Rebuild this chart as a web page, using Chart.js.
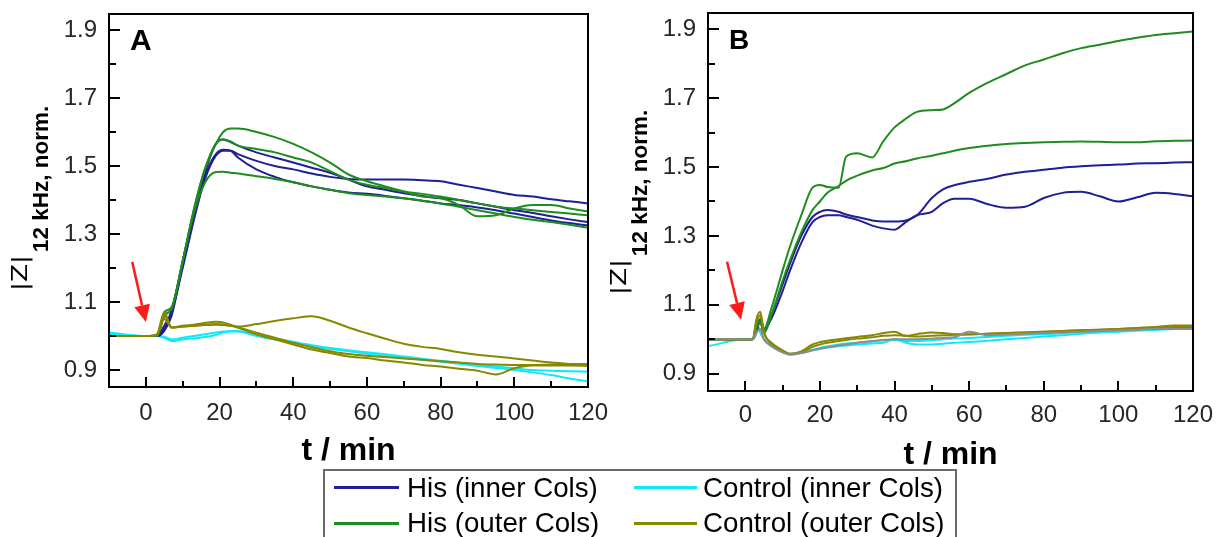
<!DOCTYPE html>
<html>
<head>
<meta charset="utf-8">
<script src="https://cdn.jsdelivr.net/npm/chart.js@4/dist/chart.umd.min.js"></script>
<style>
  html, body { margin:0; padding:0; background:#fff; width:1219px; height:537px; overflow:hidden; position:relative; }
  canvas { position:absolute; top:0; }
  #cA { left:0; }
  #cB { left:590px; }
  .lgbox { position:absolute; left:323px; top:469px; width:634px; height:90px; border:2px solid #6a6a6a; box-sizing:border-box; }
  .lgline { position:absolute; height:3px; }
  .lgtext { position:absolute; font-family:"Liberation Sans", Arial, sans-serif; font-size:27.7px; line-height:32px; color:#000; white-space:nowrap; }
</style>
</head>
<body>
<canvas id="cA" width="640" height="470"></canvas>
<canvas id="cB" width="629" height="470"></canvas>
<div class="lgbox"></div>
<div class="lgline" style="left:334px;top:486px;width:65px;background:#1f1f96"></div>
<div class="lgtext" style="left:407px;top:472px" id="lg1"></div>
<div class="lgline" style="left:634px;top:486px;width:63px;background:#10e8f8"></div>
<div class="lgtext" style="left:703px;top:472px" id="lg2"></div>
<div class="lgline" style="left:334px;top:522px;width:65px;background:#1e8c1e"></div>
<div class="lgtext" style="left:407px;top:507px" id="lg3"></div>
<div class="lgline" style="left:634px;top:522px;width:63px;background:#888800"></div>
<div class="lgtext" style="left:703px;top:507px" id="lg4"></div>
<script>
// ---------------- DATA ----------------
const legendLabels = ['His (inner Cols)', 'Control (inner Cols)', 'His (outer Cols)', 'Control (outer Cols)'];
const xTickLabels = [0, 20, 40, 60, 80, 100, 120];
const xMinorTicks = [10, 30, 50, 70, 90, 110];
const yTickLabels = [0.9, 1.1, 1.3, 1.5, 1.7, 1.9];
const yMinorTicks = [1.0, 1.2, 1.4, 1.6, 1.8];
const xRange = [-10, 120];
const yRange = [0.85, 1.947];
const panelLetters = ['A', 'B'];
const yTitleMain = '|Z|';
const yTitleSub = '12 kHz, norm.';
const xTitle = 't / min';

// Panel A time grid (min)
const tA = [-10,0,3,5,7,10,13,16,19,21,23,25,30,35,40,45,50,55,60,65,70,75,80,85,90,95,100,105,110,115,120];
const A_hisInner1 = [1.0,1.0,1.0,1.02,1.07, 1.2,1.34,1.46,1.53,1.545, 1.545,1.535,1.515,1.5,1.49, 1.478,1.468,1.462,1.46,1.46, 1.46,1.458,1.455,1.445,1.435, 1.425,1.415,1.41,1.402,1.396, 1.39];
const A_hisInner2 = [1.0,1.0,1.0,1.015,1.06, 1.21,1.36,1.48,1.565,1.578, 1.57,1.56,1.54,1.525,1.51, 1.495,1.48,1.46,1.44,1.43, 1.42,1.412,1.405,1.4,1.39, 1.38,1.37,1.362,1.352,1.343, 1.335];
const A_hisInner3 = [1.0,1.0,1.0,1.03,1.075, 1.22,1.36,1.47,1.535,1.548, 1.545,1.525,1.49,1.468,1.452, 1.44,1.43,1.422,1.418,1.412, 1.405,1.398,1.39,1.385,1.378, 1.37,1.36,1.35,1.34,1.332, 1.325];
const A_hisOuter1 = [1.0,1.0,1.0,1.07,1.085, 1.22,1.37,1.49,1.565,1.6, 1.61,1.61,1.6,1.585,1.565, 1.54,1.51,1.475,1.455,1.44, 1.425,1.41,1.405,1.385,1.352, 1.355,1.375,1.385,1.385,1.375, 1.366];
const A_hisOuter2 = [1.0,1.0,1.0,1.06,1.08, 1.22,1.37,1.49,1.565,1.578, 1.572,1.56,1.55,1.54,1.525, 1.51,1.485,1.46,1.445,1.435, 1.425,1.418,1.41,1.4,1.39, 1.38,1.375,1.37,1.365,1.36, 1.355];
const A_hisOuter3 = [1.0,1.0,1.0,1.06,1.08, 1.22,1.36,1.45,1.482,1.483, 1.48,1.478,1.47,1.462,1.452, 1.44,1.43,1.42,1.415,1.41, 1.405,1.398,1.39,1.38,1.37, 1.36,1.35,1.342,1.335,1.327, 1.318];
const A_ctrlInner1 = [1.005,1.0,1.0,0.995,0.985, 0.99,0.993,0.997,1.003,1.01, 1.013,1.013,1.0,0.99,0.98, 0.97,0.962,0.955,0.948,0.942, 0.936,0.93,0.924,0.918,0.912, 0.906,0.9,0.893,0.885,0.875, 0.866];
const A_ctrlInner2 = [1.01,1.0,1.0,0.998,0.99, 0.995,1.0,1.005,1.01,1.013, 1.015,1.015,1.003,0.993,0.983, 0.973,0.965,0.958,0.952,0.946, 0.94,0.933,0.927,0.921,0.915, 0.91,0.905,0.9,0.898,0.896, 0.895];
const A_ctrlOuter1 = [1.0,1.0,1.005,1.07,1.025, 1.028,1.03,1.032,1.033,1.032, 1.03,1.028,1.035,1.044,1.052, 1.058,1.045,1.025,1.008,0.992, 0.977,0.968,0.962,0.952,0.945, 0.94,0.934,0.928,0.922,0.918, 0.915];
const A_ctrlOuter2 = [1.0,1.0,1.005,1.06,1.025, 1.03,1.033,1.038,1.042,1.04, 1.033,1.025,1.005,0.99,0.975, 0.96,0.95,0.94,0.935,0.928, 0.922,0.915,0.91,0.904,0.898, 0.887,0.905,0.913,0.913,0.913, 0.912];
const A_ctrlOuter3 = [1.0,1.0,1.003,1.05,1.025, 1.028,1.03,1.033,1.035,1.034, 1.03,1.025,1.01,0.995,0.98, 0.967,0.955,0.947,0.942,0.938, 0.934,0.93,0.926,0.922,0.918, 0.916,0.915,0.915,0.916,0.917, 0.918];

// Panel B time grid (min)
const tB = [-10,0,2,3,4,5,7,10,12,15,18,20,22,25,27,30,34,37,40,43,46,50,53,56,60,65,70,75,80,85,90,95,100,105,110,115,120];
const B_hisOuter1 = [1.0,1.0,1.0,1.04,1.06, 1.03,1.09,1.2,1.27,1.36, 1.44,1.448,1.442,1.44,1.53, 1.54,1.528,1.575,1.615,1.64, 1.66,1.665,1.667,1.685,1.715, 1.745,1.77,1.795,1.812,1.83, 1.845,1.855,1.866,1.875,1.883, 1.888,1.893];
const B_hisOuter2 = [1.0,1.0,1.0,1.03,1.05, 1.02,1.07,1.17,1.23,1.31, 1.375,1.4,1.425,1.445,1.46, 1.475,1.49,1.497,1.51,1.517, 1.525,1.533,1.54,1.547,1.555, 1.562,1.567,1.57,1.572,1.573, 1.574,1.573,1.572,1.572,1.575, 1.576,1.577];
const B_hisInner1 = [1.0,1.0,1.0,1.03,1.05, 1.02,1.07,1.16,1.22,1.3, 1.355,1.37,1.375,1.37,1.362, 1.355,1.345,1.342,1.342,1.345, 1.36,1.41,1.435,1.447,1.457, 1.466,1.478,1.486,1.492,1.498, 1.502,1.505,1.507,1.51,1.511, 1.513,1.514];
const B_hisInner2 = [1.0,1.0,1.0,1.02,1.06, 1.03,1.06,1.14,1.2,1.28, 1.34,1.355,1.36,1.36,1.355, 1.347,1.33,1.322,1.318,1.34, 1.36,1.37,1.395,1.408,1.408, 1.392,1.382,1.385,1.41,1.425, 1.428,1.415,1.4,1.412,1.425, 1.422,1.415];
const B_ctrlInner1 = [0.98,1.0,1.0,1.05,1.02, 1.0,0.985,0.965,0.958,0.96, 0.968,0.972,0.976,0.98,0.982, 0.985,0.988,0.99,1.0,0.99, 0.985,0.985,0.987,0.99,0.992, 0.996,1.0,1.004,1.008,1.012, 1.016,1.02,1.022,1.025,1.027, 1.03,1.03];
const B_ctrlInner2 = [1.0,1.0,1.0,1.04,1.02, 1.0,0.98,0.962,0.957,0.962, 0.97,0.975,0.98,0.985,0.988, 0.99,0.994,0.997,0.998,0.995, 0.995,0.997,1.0,1.002,1.004, 1.007,1.01,1.013,1.015,1.018, 1.02,1.023,1.025,1.028,1.03, 1.032,1.035];
const B_ctrlOuter1 = [1.0,1.0,1.0,1.06,1.08, 1.02,0.99,0.968,0.958,0.965, 0.985,0.992,0.996,1.0,1.003, 1.007,1.012,1.018,1.022,1.01, 1.015,1.02,1.018,1.015,1.015, 1.016,1.018,1.02,1.022,1.024, 1.026,1.028,1.03,1.033,1.036, 1.04,1.04];
const B_ctrlOuter2 = [1.0,1.0,1.0,1.05,1.07, 1.02,0.985,0.965,0.957,0.962, 0.978,0.985,0.99,0.995,0.998, 1.002,1.006,1.01,1.012,1.01, 1.008,1.01,1.012,1.013,1.014, 1.016,1.018,1.02,1.022,1.024, 1.026,1.028,1.03,1.032,1.034, 1.036,1.036];
const B_gray = [1.0,1.0,1.0,1.02,1.03, 1.0,0.98,0.962,0.955,0.96, 0.968,0.973,0.977,0.982,0.985, 0.99,0.995,0.998,1.0,1.0, 1.0,1.002,1.004,1.006,1.022, 1.012,1.014,1.016,1.018,1.02, 1.022,1.024,1.026,1.028,1.03, 1.03,1.03];

// red arrows (tail, tip) in data units
const arrowA_t = [-3.7, 0.0];
const arrowA_z = [1.218, 1.041];
const arrowB_t = [-4.9, -1.15];
const arrowB_z = [1.225, 1.057];

// ---------------- STYLE ----------------
const COL = { hisInner:'#1f1f96', hisOuter:'#1e8c1e', ctrlInner:'#10e8f8', ctrlOuter:'#888800', gray:'#8c8c8c' };
const FONT = '"Liberation Sans", Arial, sans-serif';

document.getElementById('lg1').textContent = legendLabels[0];
document.getElementById('lg2').textContent = legendLabels[1];
document.getElementById('lg3').textContent = legendLabels[2];
document.getElementById('lg4').textContent = legendLabels[3];

function pts(t, z) { return t.map((v, i) => ({ x: v, y: z[i] })); }
function ds(t, z, color) {
  return { data: pts(t, z), borderColor: color, backgroundColor: color, borderWidth: 2, pointRadius: 0, fill: false, cubicInterpolationMode: 'monotone' };
}

const decor = {
  id: 'decor',
  afterDraw(chart, args, o) {
    const ctx = chart.ctx, ca = chart.chartArea, xs = chart.scales.x, ys = chart.scales.y;
    ctx.save();
    // frame
    ctx.strokeStyle = '#000'; ctx.lineWidth = 2;
    ctx.strokeRect(ca.left, ca.top, ca.right - ca.left, ca.bottom - ca.top);
    // ticks (inside)
    ctx.lineWidth = 2; ctx.beginPath();
    xTickLabels.forEach(v => { const p = Math.round(xs.getPixelForValue(v)); ctx.moveTo(p, ca.bottom); ctx.lineTo(p, ca.bottom - 10); });
    xMinorTicks.forEach(v => { const p = Math.round(xs.getPixelForValue(v)); ctx.moveTo(p, ca.bottom); ctx.lineTo(p, ca.bottom - 6); });
    yTickLabels.forEach(v => { const p = Math.round(ys.getPixelForValue(v)); ctx.moveTo(ca.left, p); ctx.lineTo(ca.left + 11, p); });
    yMinorTicks.forEach(v => { const p = Math.round(ys.getPixelForValue(v)); ctx.moveTo(ca.left, p); ctx.lineTo(ca.left + 7, p); });
    ctx.stroke();
    // panel letter
    ctx.fillStyle = '#000';
    ctx.font = 'bold ' + o.letterSize + 'px ' + FONT;
    ctx.textAlign = 'left'; ctx.textBaseline = 'alphabetic';
    ctx.fillText(o.letter, ca.left + 21, ca.top + 36);
    // x title
    ctx.font = 'bold 32px ' + FONT; ctx.textAlign = 'center';
    ctx.fillText(xTitle, (ca.left + ca.right) / 2, ca.bottom + o.xTitleOff);
    // y title (rotated)
    const y0 = ca.bottom - 96;
    ctx.save();
    ctx.translate(ca.left - 82, y0); ctx.rotate(-Math.PI / 2);
    ctx.font = '22px "DejaVu Sans", sans-serif'; ctx.textAlign = 'left';
    ctx.scale(1.2, 1);
    ctx.fillText(yTitleMain, 0, 0);
    const zLen = ctx.measureText(yTitleMain).width * 1.2;
    ctx.restore();
    ctx.save();
    ctx.translate(ca.left - 61, y0 - zLen - 3); ctx.rotate(-Math.PI / 2);
    ctx.font = 'bold 22.5px ' + FONT; ctx.textAlign = 'left';
    ctx.fillText(yTitleSub, 0, 0);
    ctx.restore();
    // red arrow
    const tx = xs.getPixelForValue(o.arrowT[0]), ty = ys.getPixelForValue(o.arrowZ[0]);
    const hx = xs.getPixelForValue(o.arrowT[1]), hy = ys.getPixelForValue(o.arrowZ[1]);
    const ang = Math.atan2(hy - ty, hx - tx), hl = 17, hw = 8;
    const bx = hx - hl * Math.cos(ang), by = hy - hl * Math.sin(ang);
    ctx.strokeStyle = '#ff1a1a'; ctx.fillStyle = '#ff1a1a'; ctx.lineWidth = 2.5;
    ctx.beginPath(); ctx.moveTo(tx, ty); ctx.lineTo(bx, by); ctx.stroke();
    ctx.beginPath(); ctx.moveTo(hx, hy);
    ctx.lineTo(bx + hw * Math.sin(ang), by - hw * Math.cos(ang));
    ctx.lineTo(bx - hw * Math.sin(ang), by + hw * Math.cos(ang));
    ctx.closePath(); ctx.fill();
    ctx.restore();
  }
};

function makeOptions(cfg) {
  return {
    responsive: false, animation: false, devicePixelRatio: 1,
    layout: { padding: { left: 0, top: cfg.top, right: cfg.right, bottom: 0 } },
    plugins: { legend: { display: false }, tooltip: { enabled: false }, decor: cfg.decor },
    events: [],
    scales: {
      x: {
        type: 'linear', min: xRange[0], max: xRange[1],
        grid: { display: false, drawTicks: false }, border: { display: false },
        ticks: { padding: cfg.xPad, color: '#262626', font: { family: FONT, size: 24 }, callback: v => String(v) },
        afterBuildTicks: s => { s.ticks = xTickLabels.map(v => ({ value: v })); },
        afterFit: s => { s.height = cfg.xH; s.paddingLeft = 0; s.paddingRight = 0; }
      },
      y: {
        type: 'linear', min: yRange[0], max: yRange[1],
        grid: { display: false, drawTicks: false }, border: { display: false },
        ticks: { padding: 12, color: '#262626', font: { family: FONT, size: 24 }, callback: v => Number(v).toFixed(1) },
        afterBuildTicks: s => { s.ticks = yTickLabels.map(v => ({ value: v })); },
        afterFit: s => { s.width = cfg.yW; s.paddingTop = 0; s.paddingBottom = 0; }
      }
    }
  };
}

new Chart(document.getElementById('cA'), {
  type: 'line',
  data: { datasets: [
    ds(tA, A_ctrlOuter1, COL.ctrlOuter), ds(tA, A_ctrlOuter2, COL.ctrlOuter), ds(tA, A_ctrlOuter3, COL.ctrlOuter),
    ds(tA, A_hisOuter1, COL.hisOuter), ds(tA, A_hisOuter2, COL.hisOuter), ds(tA, A_hisOuter3, COL.hisOuter),
    ds(tA, A_hisInner1, COL.hisInner), ds(tA, A_hisInner2, COL.hisInner), ds(tA, A_hisInner3, COL.hisInner),
    ds(tA, A_ctrlInner1, COL.ctrlInner), ds(tA, A_ctrlInner2, COL.ctrlInner)
  ] },
  options: makeOptions({ top: 14, right: 52, xH: 83, yW: 109, xPad: 12,
    decor: { letter: panelLetters[0], letterSize: 30, xTitleOff: 73, arrowT: arrowA_t, arrowZ: arrowA_z } }),
  plugins: [decor]
});

new Chart(document.getElementById('cB'), {
  type: 'line',
  data: { datasets: [
    ds(tB, B_gray, COL.gray),
    ds(tB, B_ctrlOuter1, COL.ctrlOuter), ds(tB, B_ctrlOuter2, COL.ctrlOuter),
    ds(tB, B_hisOuter1, COL.hisOuter), ds(tB, B_hisOuter2, COL.hisOuter),
    ds(tB, B_hisInner1, COL.hisInner), ds(tB, B_hisInner2, COL.hisInner),
    ds(tB, B_ctrlInner1, COL.ctrlInner), ds(tB, B_ctrlInner2, COL.ctrlInner)
  ] },
  options: makeOptions({ top: 13, right: 26, xH: 79, yW: 118, xPad: 10,
    decor: { letter: panelLetters[1], letterSize: 28, xTitleOff: 73, arrowT: arrowB_t, arrowZ: arrowB_z } }),
  plugins: [decor]
});
</script>
</body>
</html>
